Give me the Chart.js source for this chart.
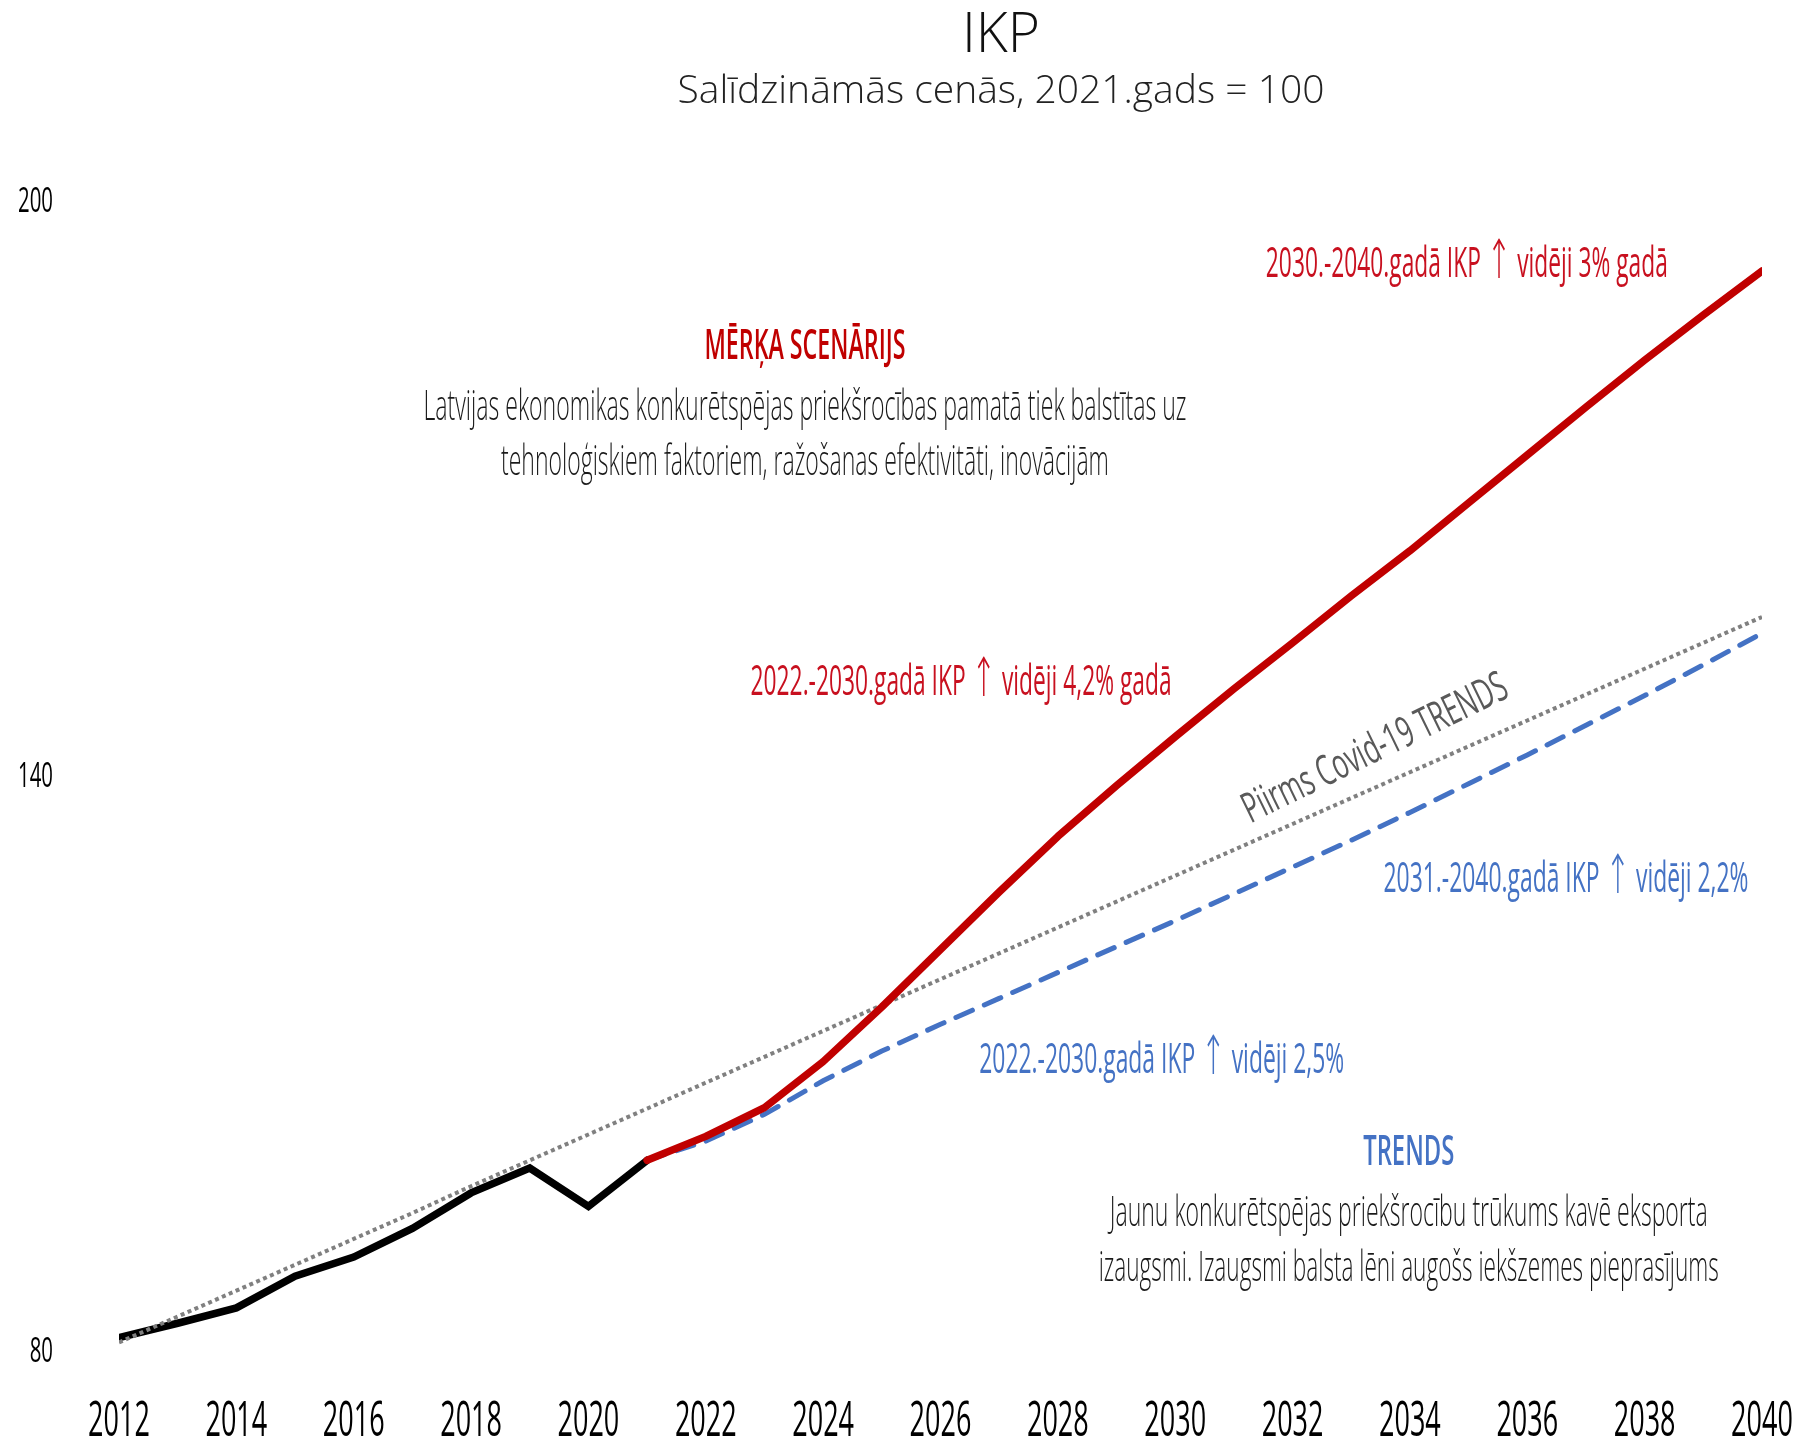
<!DOCTYPE html>
<html>
<head>
<meta charset="utf-8">
<script src="https://cdn.jsdelivr.net/npm/chart.js@4.4.1/dist/chart.umd.min.js"></script>
<style>
  html, body { margin: 0; padding: 0; background: #ffffff; }
  #wrap { width: 1800px; height: 1441px; position: relative; }
</style>
</head>
<body>
<div id="wrap"><canvas id="c" width="1800" height="1441"></canvas></div>
<script>
// ---------- DATA ----------
const years = [2012, 2013, 2014, 2015, 2016, 2017, 2018, 2019, 2020, 2021,
               2022, 2023, 2024, 2025, 2026, 2027, 2028, 2029, 2030, 2031,
               2032, 2033, 2034, 2035, 2036, 2037, 2038, 2039, 2040];

const actualYears  = [2012, 2013, 2014, 2015, 2016, 2017, 2018, 2019, 2020, 2021];
const actualValues = [81.5, 83.0, 84.6, 87.9, 89.9, 92.9, 96.6, 99.2, 95.2, 100];

const forecastYears = [2021, 2022, 2023, 2024, 2025, 2026, 2027, 2028, 2029, 2030,
                       2031, 2032, 2033, 2034, 2035, 2036, 2037, 2038, 2039, 2040];
const targetValues  = [100, 102.5, 105.5, 110.3, 116.0, 122.0, 128.0, 133.8, 139.1, 144.2,
                       149.2, 154.0, 158.9, 163.6, 168.6, 173.6, 178.6, 183.5, 188.2, 192.8];
const trendValues   = [100, 102.0, 104.8, 108.3, 111.4, 114.2, 116.9, 119.6, 122.3, 125.0,
                       127.8, 130.6, 133.4, 136.3, 139.3, 142.3, 145.4, 148.5, 151.7, 155.0];

const preCovidValues = [81.0, 83.7, 86.4, 89.1, 91.8, 94.5, 97.3, 100.0, 102.7, 105.4,
                        108.1, 110.8, 113.5, 116.2, 118.9, 121.6, 124.3, 127.0, 129.7, 132.4,
                        135.1, 137.8, 140.5, 143.2, 145.9, 148.6, 151.3, 154.0, 156.7];

const yTicks = [80, 140, 200];

const titleText = 'IKP';
const subtitleText = 'Salīdzināmās cenās, 2021.gads = 100';

// annotations: text, data position (year, value)
const notes = [
  { text: '2030.-2040.gadā IKP ↑ vidēji 3% gadā', x: 2034.97, y: 193.7, color: '#c8101f', weight: 400, w: 402 },
  { text: 'MĒRĶA SCENĀRIJS', x: 2023.69, y: 185.2, color: '#c00000', weight: 600, w: 201 },
  { text: 'Latvijas ekonomikas konkurētspējas priekšrocības pamatā tiek balstītas uz', x: 2023.69, y: 178.8, color: '#1a1a1a', weight: 300, w: 763 },
  { text: 'tehnoloģiskiem faktoriem, ražošanas efektivitāti, inovācijām', x: 2023.69, y: 173.1, color: '#1a1a1a', weight: 300, w: 608 },
  { text: '2022.-2030.gadā IKP ↑ vidēji 4,2% gadā', x: 2026.35, y: 150.1, color: '#c8101f', weight: 400, w: 421 },
  { text: 'Piirms Covid-19 TRENDS', x: 2033.39, y: 143.2, color: '#595959', weight: 400, w: 290, angle: -26 },
  { text: '2031.-2040.gadā IKP ↑ vidēji 2,2%', x: 2036.66, y: 129.6, color: '#4472c4', weight: 400, w: 365 },
  { text: '2022.-2030.gadā IKP ↑ vidēji 2,5%', x: 2029.77, y: 110.7, color: '#4472c4', weight: 400, w: 365 },
  { text: 'TRENDS', x: 2033.98, y: 101.1, color: '#4472c4', weight: 600, w: 91 },
  { text: 'Jaunu konkurētspējas priekšrocību trūkums kavē eksporta', x: 2033.98, y: 94.7, color: '#1a1a1a', weight: 300, w: 598 },
  { text: 'izaugsmi. Izaugsmi balsta lēni augošs iekšzemes pieprasījums', x: 2033.98, y: 89.0, color: '#1a1a1a', weight: 300, w: 620 }
];

// ---------- BUILD ----------
const toPts = (xs, ys) => xs.map((x, i) => ({ x: x, y: ys[i] }));
const FONT = '"Open Sans", "Noto Sans", sans-serif';
const ARROW_FONT = '200 54px "DejaVu Sans", "Noto Sans", sans-serif';

// Condense the axis tick labels drawn by Chart.js (narrow typeface look)
const condenseTicks = {
  id: 'condenseTicks',
  afterLayout(chart) {
    const factors = { x: 0.54, y: 0.6 };
    Object.keys(factors).forEach(id => {
      const s = chart.scales[id];
      if (!s || s._condensed) return;
      s._condensed = true;
      const k = factors[id];
      const orig = s.drawLabels;
      s.drawLabels = function (area) {
        const ctx = this.ctx;
        const f = ctx.fillText;
        ctx.fillText = function (t, x, y) {
          this.save();
          this.translate(x, y);
          this.scale(k, 1);
          f.call(this, t, 0, 0);
          this.restore();
        };
        try { orig.call(this, area); } finally { ctx.fillText = f; }
      };
    });
  }
};

const notesPlugin = {
  id: 'notes',
  afterDraw(chart) {
    const ctx = chart.ctx;
    const xs = chart.scales.x, ys = chart.scales.y;
    ctx.save();
    ctx.textAlign = 'center';
    ctx.textBaseline = 'middle';
    ctx.fillStyle = '#111111';
    ctx.font = '300 55px ' + FONT;
    ctx.fillText(titleText, 1001, 36);
    ctx.font = '300 39px ' + FONT;
    ctx.fillStyle = '#222222';
    ctx.fillText(subtitleText, 1001, 92);

    notes.forEach(n => {
      const px = xs.getPixelForValue(n.x);
      const py = ys.getPixelForValue(n.y);
      const mainFont = n.weight + ' 42px ' + FONT;
      // split into runs so the arrow gets a taller glyph
      const runs = n.text.split(/(↑)/).filter(s => s.length).map(s => ({
        s: s, font: s === '↑' ? ARROW_FONT : mainFont
      }));
      let total = 0;
      runs.forEach(r => { ctx.font = r.font; r.w = ctx.measureText(r.s).width; total += r.w; });
      const sx = n.w / total;
      ctx.save();
      ctx.translate(px, py);
      if (n.angle) ctx.rotate(n.angle * Math.PI / 180);
      ctx.scale(sx, 1);
      ctx.fillStyle = n.color;
      ctx.textAlign = 'left';
      ctx.textBaseline = 'alphabetic';
      let cx = -total / 2;
      runs.forEach(r => {
        ctx.font = r.font;
        ctx.fillText(r.s, cx, r.s === '↑' ? 16 : 15);
        cx += r.w;
      });
      ctx.restore();
    });
    ctx.restore();
  }
};

new Chart(document.getElementById('c'), {
  type: 'line',
  data: {
    datasets: [
      {
        label: 'Mērķa scenārijs',
        data: toPts(forecastYears, targetValues),
        borderColor: '#c00000',
        borderWidth: 7.5,
        borderCapStyle: 'round',
        borderJoinStyle: 'round',
        pointRadius: 0,
        tension: 0,
        order: 0
      },
      {
        label: 'Pirms Covid-19 trends',
        data: toPts(years, preCovidValues),
        borderColor: '#808080',
        borderWidth: 4,
        borderDash: [4, 3.5],
        pointRadius: 0,
        tension: 0,
        order: 1
      },
      {
        label: 'Trends',
        data: toPts(forecastYears, trendValues),
        borderColor: '#4472c4',
        borderWidth: 5,
        borderDash: [18, 13],
        borderCapStyle: 'round',
        pointRadius: 0,
        tension: 0,
        order: 2
      },
      {
        label: 'Faktiskais IKP',
        data: toPts(actualYears, actualValues),
        borderColor: '#000000',
        borderWidth: 7.5,
        borderCapStyle: 'round',
        borderJoinStyle: 'miter',
        pointRadius: 0,
        tension: 0,
        order: 3
      }
    ]
  },
  options: {
    responsive: false,
    animation: false,
    devicePixelRatio: 1,
    layout: { padding: { top: 202, right: 38, left: 0, bottom: 0 } },
    plugins: {
      legend: { display: false },
      tooltip: { enabled: false },
      title: { display: false }
    },
    scales: {
      x: {
        type: 'linear',
        min: years[0],
        max: years[years.length - 1],
        grid: { display: false, drawTicks: false },
        border: { display: false },
        afterBuildTicks: (scale) => {
          scale.ticks = years.filter((y, i) => i % 2 === 0).map(v => ({ value: v }));
        },
        afterFit: (scale) => {
          scale.height = 89;
          scale.paddingLeft = 0;
          scale.paddingRight = 0;
        },
        ticks: {
          autoSkip: false,
          maxRotation: 0,
          padding: 40,
          color: '#000000',
          font: { family: FONT, size: 50, weight: 400 },
          callback: (v) => String(v)
        }
      },
      y: {
        min: 80,
        max: 200,
        grid: { display: false, drawTicks: false },
        border: { display: false },
        afterBuildTicks: (scale) => {
          scale.ticks = yTicks.map(v => ({ value: v }));
        },
        afterFit: (scale) => {
          scale.width = 119;
          scale.paddingTop = 0;
          scale.paddingBottom = 0;
        },
        ticks: {
          padding: 66,
          color: '#000000',
          font: { family: FONT, size: 34, weight: 400 },
          callback: (v) => String(v)
        }
      }
    }
  },
  plugins: [condenseTicks, notesPlugin]
});
</script>
</body>
</html>
